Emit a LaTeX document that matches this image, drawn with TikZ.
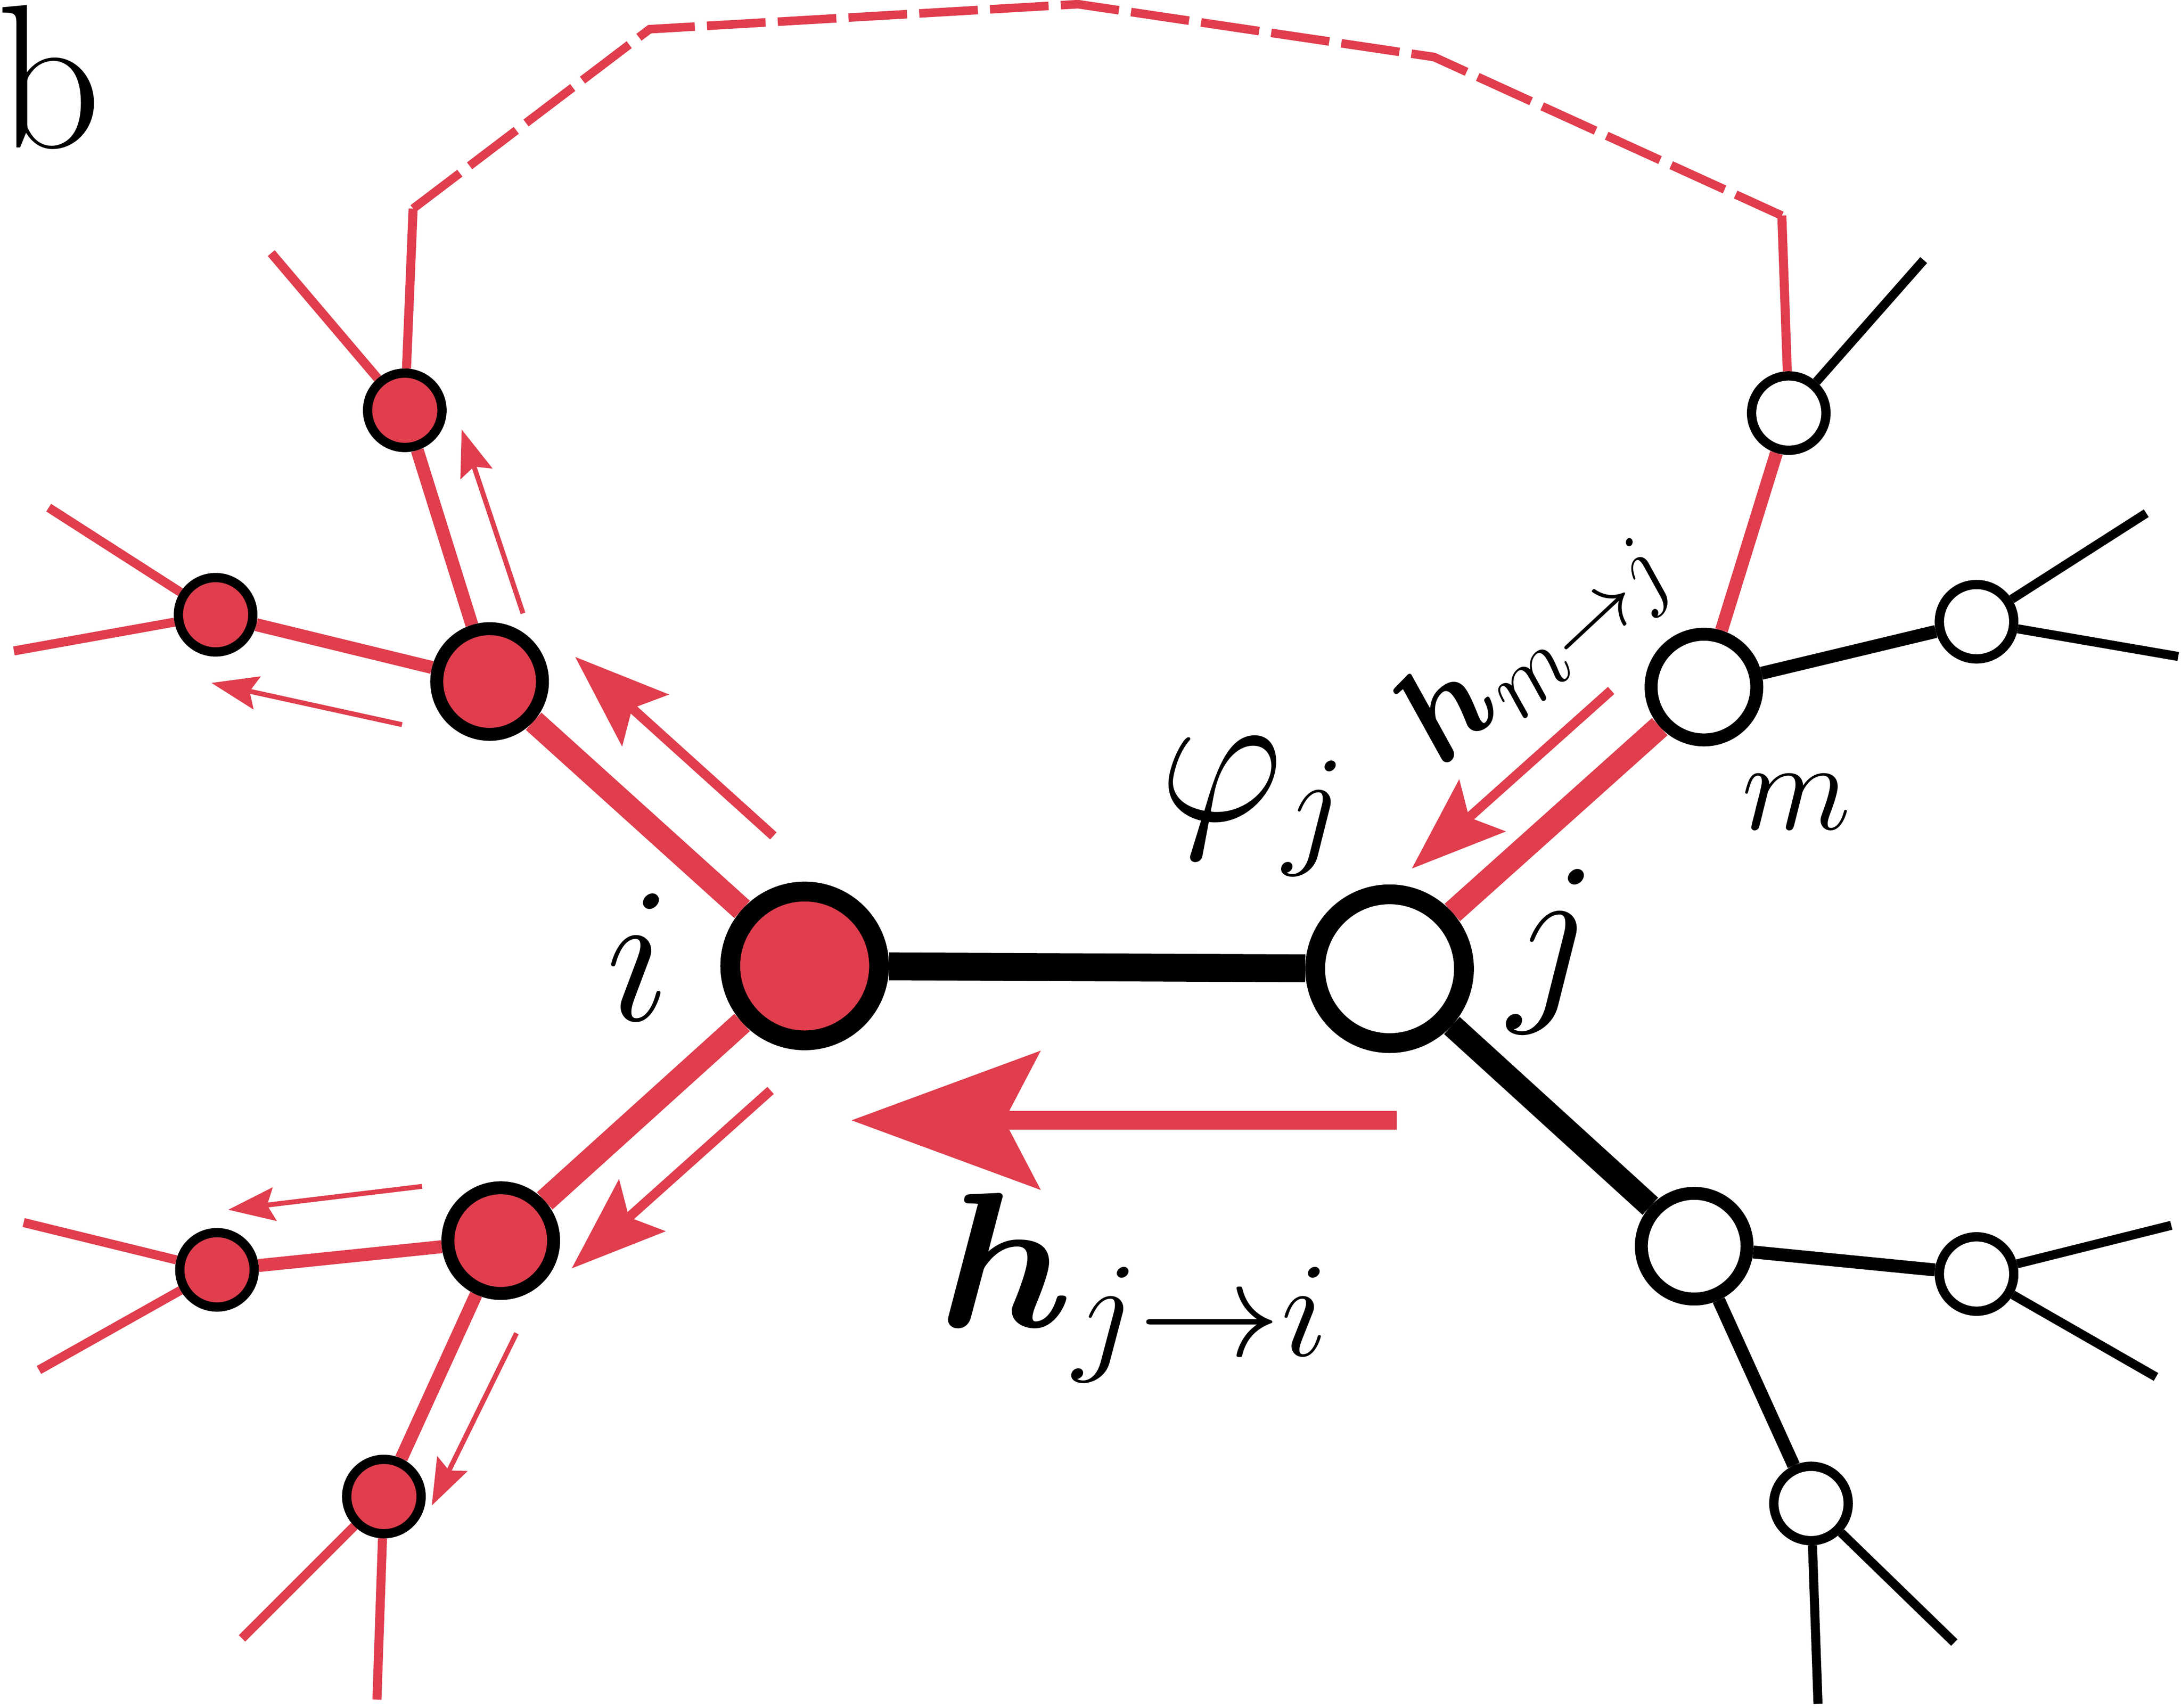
\RequirePackage{fix-cm}
\documentclass[tikz,border=0pt]{standalone}
\usepackage{amsmath}
\usetikzlibrary{arrows.meta, positioning, backgrounds}
\definecolor{msgred}{RGB}{224,61,77}
\tikzstyle{bigv}=[circle,draw=black,line width=8.1pt,minimum size=2.14cm,inner sep=0pt]
\tikzstyle{midv}=[circle,draw=black,line width=5.3pt,minimum size=1.52cm,inner sep=0pt]
\tikzstyle{smallv}=[circle,draw=black,line width=3.8pt,minimum size=1.07cm,inner sep=0pt]
\tikzstyle{occ}=[fill=msgred]
\tikzstyle{emp}=[fill=white]
\tikzstyle{ecore}=[line width=11.4pt]
\tikzstyle{efst}=[line width=9.5pt]
\tikzstyle{esnd}=[line width=5.3pt]
\tikzstyle{etrd}=[line width=3.7pt]
\tikzstyle{msgbig}=[msgred,line width=7.8pt,-{Stealth[length=76.8pt,width=55.8pt,inset=14.2pt]}]
\tikzstyle{msgmid}=[msgred,line width=3.9pt,-{Stealth[length=38.5pt,width=28.1pt,inset=7.1pt]}]
\tikzstyle{msgsmall}=[msgred,line width=2pt,-{Stealth[length=19pt,width=13.6pt,inset=3pt]}]
\tikzstyle{lbl}=[inner sep=0pt,font=\fontsize{79}{90}\selectfont]
\tikzstyle{lblsm}=[inner sep=0pt,font=\fontsize{54}{60}\selectfont]

\begin{document}
\begin{tikzpicture}[x=0.02cm,y=-0.02cm]
    \useasboundingbox (0,0) rectangle (1568,1228);
    % vertices
    \node[bigv,occ] (i) at (578.5,694.5) {};
    \node[bigv,emp] (j) at (999,696.5) {};
    \foreach \p/\n/\d in {{352,490}/a1/occ, {360,892}/a2/occ, {1225,494}/m/emp, {1218,896}/b1/emp}
        \node[midv,\d] (\n) at (\p) {};
    \foreach \p/\n/\d in {{291,295}/a11/occ, {155,442}/a12/occ, {156,913}/a21/occ, {276,1076}/a22/occ,
                          {1286,297}/m1/emp, {1421,447}/m2/emp, {1421,916}/b11/emp, {1302,1081}/b12/emp}
        \node[smallv,\d] (\n) at (\p) {};
    % free ends of the outer edges
    \foreach \p/\n in {{195,182}/s1, {297,150}/s2, {35,365}/s3, {10,468}/s4, {17,879}/s5, {28,985}/s6,
                       {174,1178}/s7, {271,1222}/s8, {1281,155}/s9, {1383,187}/s10, {1543,369}/s11,
                       {1566,472}/s12, {1561,881}/s13, {1550,990}/s14, {1307,1225}/s15, {1405,1181}/s16}
        \coordinate (\n) at (\p);
    \foreach \p/\n in {{467,21}/d1, {775,3}/d2, {1031,41}/d3}
        \coordinate (\n) at (\p);
    \begin{pgfonlayer}{background}
        \draw[ecore] (i) -- (j);
        \draw[efst,msgred] (i) -- (a1);
        \draw[efst,msgred] (i) -- (a2);
        \draw[efst,msgred] (j) -- (m);
        \draw[efst] (j) -- (b1);
        \foreach \u/\v/\c in {a1/a11/msgred, a1/a12/msgred, a2/a21/msgred, a2/a22/msgred,
                              m/m1/msgred, m/m2/black, b1/b11/black, b1/b12/black}
            \draw[esnd,\c] (\u) -- (\v);
        \foreach \u/\v/\c in {a11/s1/msgred, a11/s2/msgred, a12/s3/msgred, a12/s4/msgred,
                              a21/s5/msgred, a21/s6/msgred, a22/s7/msgred, a22/s8/msgred,
                              m1/s9/msgred, m1/s10/black, m2/s11/black, m2/s12/black,
                              b11/s13/black, b11/s14/black, b12/s15/black, b12/s16/black}
            \draw[etrd,\c] (\u) -- (\v);
        \draw[msgred,line width=3.5pt,dash pattern=on 24pt off 5pt] (s2) -- (d1) -- (d2) -- (d3) -- (s9);
    \end{pgfonlayer}
    % messages
    \foreach \p/\n in {{1004,805.5}/t0, {612,805.5}/h0, {556,601}/t1, {413.5,472.3}/h1,
                       {554,784}/t2, {411,912}/h2, {1158.3,496.4}/t3, {1015,624.5}/h3,
                       {376,441}/t4, {331.9,308.8}/h4, {289,521}/t5, {152,491}/h5,
                       {303.4,853}/t6, {164.1,869.8}/h6, {371.3,958.6}/t7, {310.4,1082.5}/h7}
        \coordinate (\n) at (\p);
    \draw[msgbig] (t0) -- (h0);
    \foreach \n in {1,2,3}
        \draw[msgmid] (t\n) -- (h\n);
    \foreach \n in {4,5,6,7}
        \draw[msgsmall] (t\n) -- (h\n);
    % labels
    \node[inner sep=0pt,anchor=base west,font=\fontsize{84}{90}\selectfont] (lb) at (-3,106) {b};
    \node[lbl] (li) at (459,688) {$i$};
    \node[lbl] (lj) at (1116.5,684) {$j$};
    \node[lbl,anchor=base west] (lphi) at (833,590) {$\varphi_j$};
    \node[lbl,anchor=base west,xscale=1.05] (lhji) at (674,954) {$\boldsymbol{h}_{j\to i}$};
    \node[inner sep=0pt,font=\fontsize{52}{60}\selectfont] (lm) at (1291.5,576.5) {$m$};
    \node[lblsm,anchor=base west,rotate=43] (lhmj) at (1036,553) {$\boldsymbol{h}_{m\to j}$};
\end{tikzpicture}
\end{document}
